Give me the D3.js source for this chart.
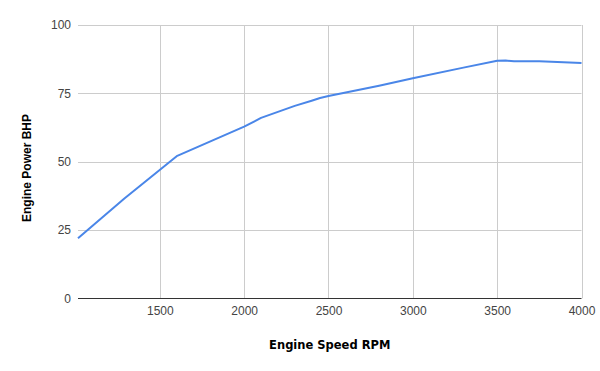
<!DOCTYPE html>
<html>
<head>
<meta charset="utf-8">
<script src="https://cdn.jsdelivr.net/npm/d3@7"></script>
<style>
  body { margin: 0; background: #fff; }
  .tick text { font-family: Arial, 'Liberation Sans', sans-serif; font-size: 12px; fill: #444; }
  .title { font-family: Arial, 'Liberation Sans', sans-serif; font-size: 12px; font-weight: bold; fill: #000; }
  .xtitle { font-family: 'DejaVu Sans', Verdana, sans-serif; font-size: 11.5px; }
</style>
</head>
<body>
<div id="chart"></div>
<script>
const rpm = [1015, 1290, 1600, 2000, 2100, 2300, 2400, 2450, 2500, 2800, 3000, 3300, 3500, 3550, 3600, 3750, 4000]
const bhp = [22, 36.5, 52, 62.8, 66, 70.4, 72.3, 73.3, 74, 77.8, 80.5, 84.4, 86.9, 87, 86.7, 86.7, 86.1]
const xTicks = [1500, 2000, 2500, 3000, 3500, 4000]
const yTicks = [0, 25, 50, 75, 100]

const W = 600
const H = 371
const margin = { top: 25, left: 78, right: 18.5, bottom: 72.7 }

const svg = d3
  .select('#chart')
  .append('svg')
  .attr('width', W)
  .attr('height', H)

const x = d3
  .scaleLinear()
  .domain([d3.min(rpm), 4000])
  .range([margin.left, W - margin.right])

const y = d3
  .scaleLinear()
  .domain([0, 100])
  .range([H - margin.bottom, margin.top])

// gridlines
svg
  .append('g')
  .selectAll('line')
  .data(yTicks.filter(d => d !== 0))
  .enter()
  .append('line')
  .attr('x1', x.range()[0])
  .attr('x2', x.range()[1])
  .attr('y1', d => Math.round(y(d)) + 0.5)
  .attr('y2', d => Math.round(y(d)) + 0.5)
  .attr('stroke', '#ccc')

svg
  .append('g')
  .selectAll('line')
  .data(xTicks)
  .enter()
  .append('line')
  .attr('x1', d => Math.round(x(d)) + 0.5)
  .attr('x2', d => Math.round(x(d)) + 0.5)
  .attr('y1', y.range()[0])
  .attr('y2', y.range()[1])
  .attr('stroke', '#ccc')

// axes (labels only)
const xAxis = svg
  .append('g')
  .attr('transform', `translate(0, ${y(0)})`)
  .call(d3.axisBottom(x).tickValues(xTicks).tickSize(0).tickPadding(8.5).tickFormat(d3.format('d')))
xAxis.select('.domain').remove()

const yAxis = svg
  .append('g')
  .attr('transform', `translate(${margin.left}, 0)`)
  .call(d3.axisLeft(y).tickValues(yTicks).tickSize(0).tickPadding(7))
yAxis.select('.domain').remove()

// baseline
svg
  .append('line')
  .attr('x1', x.range()[0])
  .attr('x2', x.range()[1])
  .attr('y1', Math.round(y(0)) + 0.5)
  .attr('y2', Math.round(y(0)) + 0.5)
  .attr('stroke', '#333')

// line
const line = d3
  .line()
  .x((d, i) => x(rpm[i]))
  .y(d => y(d))

svg
  .append('path')
  .datum(bhp)
  .attr('d', line)
  .attr('fill', 'none')
  .attr('stroke', '#4a86e8')
  .attr('stroke-width', 2)
  .attr('stroke-linejoin', 'round')

// titles
svg
  .append('text')
  .attr('class', 'title xtitle')
  .attr('x', (x.range()[0] + x.range()[1]) / 2)
  .attr('y', 348.5)
  .attr('text-anchor', 'middle')
  .text('Engine Speed RPM')

svg
  .append('text')
  .attr('class', 'title')
  .attr('transform', 'translate(31, 168) rotate(-90)')
  .attr('text-anchor', 'middle')
  .text('Engine Power BHP')
</script>
</body>
</html>
